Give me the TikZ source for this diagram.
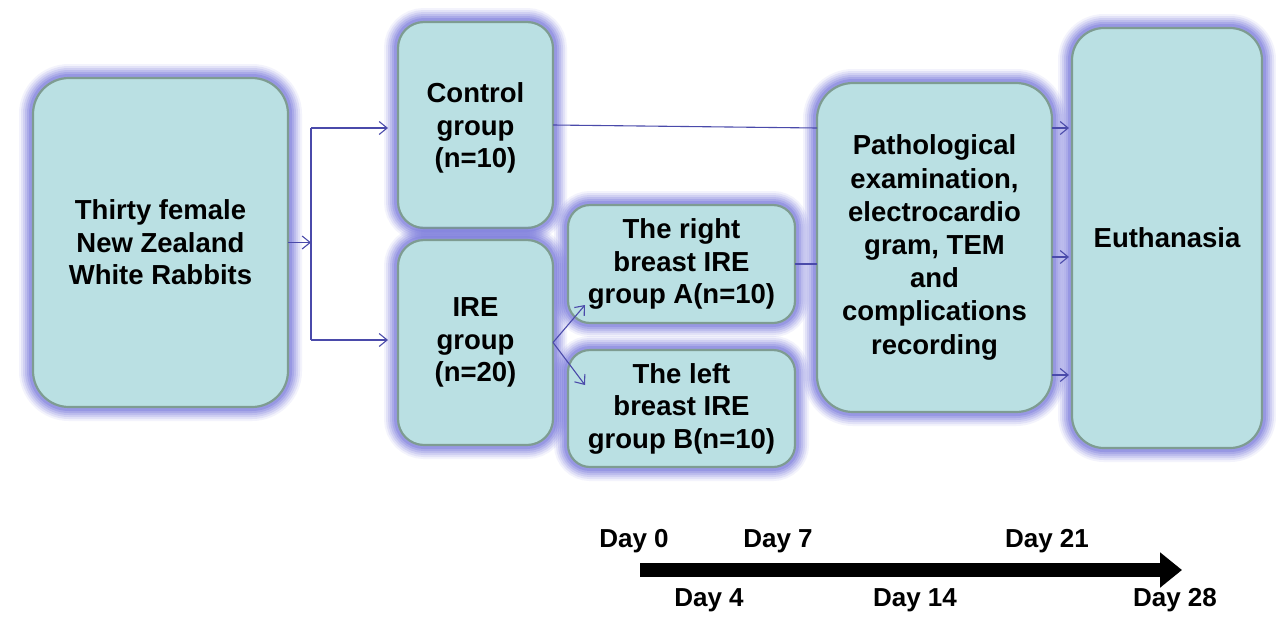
\documentclass[tikz,border=0pt]{standalone}
\usepackage{fontspec}
\setmainfont{Liberation Sans}
\usetikzlibrary{arrows.meta}
\definecolor{boxfill}{HTML}{BAE0E3}
\definecolor{boxline}{HTML}{7E9C92}
\definecolor{glowc}{HTML}{6060D4}
\definecolor{connc}{HTML}{4A4AAA}
\tikzset{
  box/.style={draw=boxline, line width=2.2pt, fill=boxfill, inner sep=0pt, outer sep=0pt,
    align=center, font=\bfseries\fontsize{27.5}{32.5}\selectfont,
    preaction={draw=glowc, line width=28pt, opacity=0.08},
    preaction={draw=glowc, line width=24pt, opacity=0.11},
    preaction={draw=glowc, line width=20pt, opacity=0.14},
    preaction={draw=glowc, line width=16pt, opacity=0.17},
    preaction={draw=glowc, line width=12pt, opacity=0.2},
    preaction={draw=glowc, line width=8pt, opacity=0.25}},
  conn/.style={draw=connc, line width=1.1pt, -{Straight Barb[length=8pt,width=13pt]}},
  plain/.style={draw=connc, line width=1.1pt},
  daylbl/.style={font=\bfseries\fontsize{26}{30}\selectfont, inner sep=0pt},
  timeline/.style={line width=14pt, -{Triangle[length=22pt,width=34pt]}}
}
\begin{document}
\begin{tikzpicture}[x=1pt,y=-1pt]
\useasboundingbox (0,0) rectangle (1276,616);
% boxes
\node[box, rounded corners=36pt, minimum width=255, minimum height=329] (thirty) at (160.5,242.5) {Thirty female\\New Zealand\\White Rabbits};
\node[box, rounded corners=26pt, minimum width=155, minimum height=206] (control) at (475.5,125) {\\[-6pt]Control\\group\\(n=10)};
\node[box, rounded corners=26pt, minimum width=155, minimum height=205] (ire) at (475.5,342.5) {IRE\\group\\(n=20)};
\node[box, rounded corners=22pt, minimum width=227, minimum height=118] (grpa) at (681.5,264) {The right\\breast IRE\\group A(n=10)};
\node[box, rounded corners=22pt, minimum width=227, minimum height=117] (grpb) at (681.5,408.5) {The left\\breast IRE\\group B(n=10)};
\node[box, rounded corners=36pt, minimum width=235, minimum height=329, font=\bfseries\fontsize{27.5}{33.2}\selectfont] (patho) at (934.5,247.5) {Pathological\\examination,\\electrocardio\\gram, TEM\\and\\complications\\recording};
\node[box, rounded corners=32pt, minimum width=190, minimum height=420] (euth) at (1167,238) {Euthanasia};
% connectors
\coordinate (j1) at (311,242.5);
\coordinate (j2) at (311,128);
\coordinate (j3) at (311,340);
\coordinate (tc) at (388,128);
\coordinate (ti) at (388,340);
\draw[conn] (thirty.east) -- (j1);
\draw[plain] (j2) -- (j3);
\draw[conn] (j2) -- (tc);
\draw[conn] (j3) -- (ti);
\draw[plain] (control.east) -- (patho.west |- 0,128);
\draw[plain] (grpa.east) -- (patho.west |- grpa.east);
\coordinate (ta) at (585,305);
\coordinate (tb) at (585,385);
\draw[conn] (ire.east) -- (ta);
\draw[conn] (ire.east) -- (tb);
\foreach \yy/\nm in {128/e1,257/e2,375/e3}{
  \coordinate (\nm s) at (1052,\yy);
  \coordinate (\nm t) at (1069,\yy);
  \draw[conn] (\nm s) -- (\nm t);
}
% timeline
\coordinate (tl0) at (640,570);
\coordinate (tl1) at (1182,570);
\draw[timeline] (tl0) -- (tl1);
\node[daylbl] (d0) at (634,541) {Day 0};
\node[daylbl] (d7) at (778,541) {Day 7};
\node[daylbl] (d21) at (1047,541) {Day 21};
\node[daylbl] (d4) at (709,600) {Day 4};
\node[daylbl] (d14) at (915,600) {Day 14};
\node[daylbl] (d28) at (1175,600) {Day 28};
\end{tikzpicture}
\end{document}
